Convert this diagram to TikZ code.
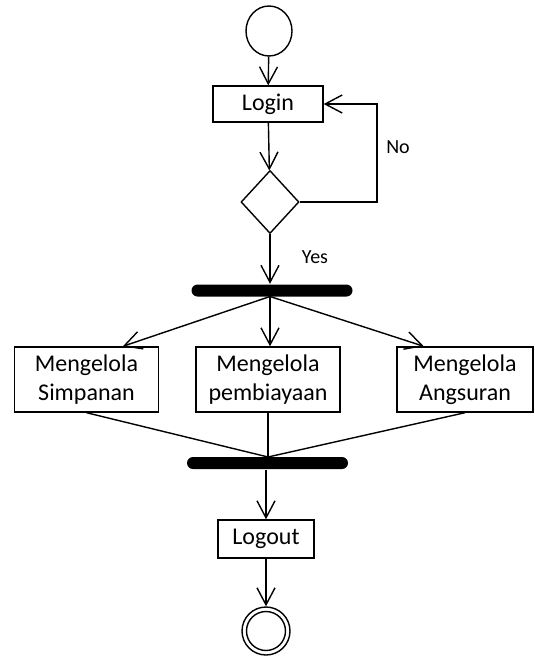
\documentclass[tikz,border=0pt]{standalone}
\usepackage{fontspec}
\setmainfont{Carlito}
\usetikzlibrary{arrows.meta,shapes.geometric,calc}
\begin{document}
\begin{tikzpicture}[x=1pt,y=-1pt,
  line width=1.4pt,
  flow/.style={-{Straight Barb[length=17pt,width=18pt,line width=1.4pt]}},
  actbox/.style={draw,rectangle,inner sep=0pt,align=center,
    font=\fontsize{24}{29.5}\selectfont},
  bar/.style={rectangle,fill=black,rounded corners=6pt,minimum width=161pt,
    minimum height=12pt,inner sep=0pt},
  lbl/.style={font=\fontsize{20}{24}\selectfont,inner sep=0pt}]
\useasboundingbox (0,0) rectangle (535,657);

% start node
\node[draw,ellipse,minimum width=46pt,minimum height=50pt,inner sep=0pt] (start) at (269,31) {};
\node[actbox,minimum width=110pt,minimum height=36pt] (login) at (268,104) {Login};
\node[draw,diamond,minimum width=58pt,minimum height=63pt,inner sep=0pt] (dec) at (270,202) {};

% fork bar
\node[bar] (fork) at (272,290.5) {};
\coordinate (fk) at (270,296.5);

% activities
\node[actbox,minimum width=144pt,minimum height=65pt] (b1) at (86.5,379.5) {Mengelola\\Simpanan};
\node[actbox,minimum width=144pt,minimum height=65pt] (b2) at (268,379.5) {Mengelola\\pembiayaan};
\node[actbox,minimum width=136pt,minimum height=65pt] (b3) at (465,379.5) {Mengelola\\Angsuran};

% join bar
\node[bar] (join) at (267.5,463) {};
\coordinate (jn) at (268,457);

\node[actbox,minimum width=96pt,minimum height=38pt] (logout) at (266,539) {Logout};

% final node
\node[draw,circle,minimum size=48pt,inner sep=0pt] (final) at (266,631) {};
\node[draw,circle,minimum size=39pt,inner sep=0pt] (finalin) at (final.center) {};

% connectors
\draw[flow] (start) -- (login);
\draw[flow] (login) -- (dec);
\coordinate (loopc) at (377,202);
\draw[flow] (dec.east) -- (loopc) |- (login.east);
\draw[flow] (dec) -- (dec.south |- fork.north);
\draw[flow] (fk) -- ($(b1.north)!0.5!(b1.north east)$);
\draw[flow] (fk) -- (fk |- b2.north);
\draw[flow] (fk) -- ($(b3.north)!0.6!(b3.north west)$);
\draw (b1.south) -- (jn);
\draw (b2.south) -- (jn);
\draw (b3.south) -- (jn);
\draw[flow] (join.south -| logout.north) -- (logout.north);
\draw[flow] (logout) -- (final);

% guard labels
\node[lbl] (no) at (398,147) {No};
\node[lbl] (yes) at (315,257) {Yes};
\end{tikzpicture}
\end{document}
